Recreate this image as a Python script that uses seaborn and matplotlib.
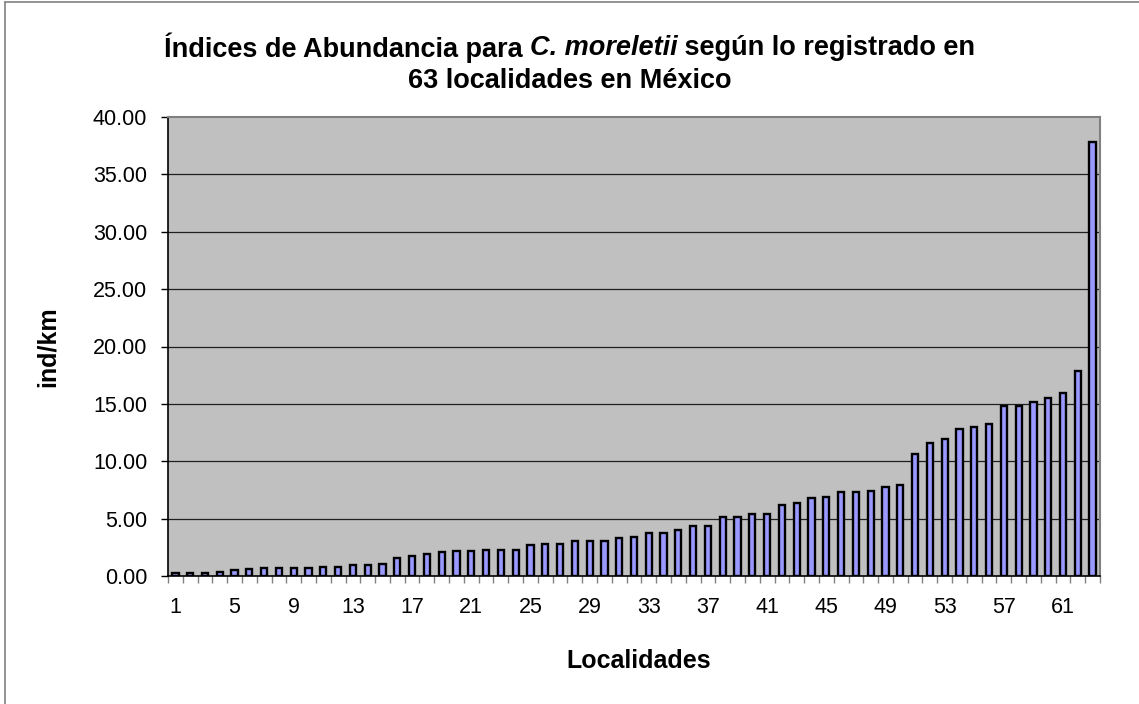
import numpy as np
import pandas as pd
import matplotlib
matplotlib.use('Agg')
import matplotlib.pyplot as plt
from matplotlib.lines import Line2D
import seaborn as sns

# datos
localidades = [str(i) for i in range(1, 64)]
valores = [0.22, 0.22, 0.30, 0.37, 0.50, 0.63, 0.66, 0.74, 0.74, 0.74,
           0.77, 0.77, 0.92, 0.95, 1.04, 1.56, 1.76, 1.96, 2.08, 2.14,
           2.20, 2.23, 2.25, 2.28, 2.66, 2.75, 2.81, 3.01, 3.04, 3.04,
           3.30, 3.42, 3.74, 3.76, 4.03, 4.32, 4.32, 5.13, 5.16, 5.36,
           5.39, 6.21, 6.36, 6.82, 6.91, 7.29, 7.29, 7.37, 7.72, 7.90,
           10.66, 11.56, 11.91, 12.78, 13.01, 13.24, 14.79, 14.79, 15.16, 15.54,
           15.92, 17.90, 37.86]
ytick_vals = np.arange(0, 45, 5)
titulo_1 = ['Índices de Abundancia para ', 'C. moreletii', ' según lo registrado en']
titulo_2 = '63 localidades en México'

df = pd.DataFrame({'Localidades': localidades, 'ind/km': valores})

sns.set_theme(style='white')
plt.rcParams['font.family'] = ['Liberation Sans', 'DejaVu Sans']
plt.rcParams['text.color'] = 'black'
plt.rcParams['xtick.color'] = 'black'
plt.rcParams['ytick.color'] = 'black'

fig = plt.figure(figsize=(11.39, 7.04), dpi=100)
ax = fig.add_axes([168 / 1139, 1 - 576 / 704, (1100 - 168) / 1139, (576 - 117) / 704])

sns.barplot(data=df, x='Localidades', y='ind/km', color='#9999FF', saturation=1,
            edgecolor='black', linewidth=1.7, width=0.42, ax=ax, zorder=3)

ax.set_facecolor('#C0C0C0')
ax.set_ylim(0, 40)
ax.set_xlim(-0.5, len(localidades) - 0.5)
ax.set_yticks(ytick_vals)
ax.set_yticklabels(['%.2f' % v for v in ytick_vals], fontsize=15.5)
for v in ytick_vals[1:-1]:
    ax.axhline(v, color='#202020', lw=0.9, zorder=1)

pos = np.arange(0, len(localidades), 4)
ax.set_xticks(pos)
ax.set_xticklabels([localidades[p] for p in pos], fontsize=15.5)
ax.set_xticks(np.arange(-0.5, len(localidades), 1), minor=True)
ax.tick_params(axis='x', which='major', length=0, pad=15)
ax.tick_params(axis='x', which='minor', length=5, width=1, color='#808080', direction='out', bottom=True)
ax.tick_params(axis='y', length=5, width=1, color='black', direction='out', left=True, pad=10)
ax.set_xlabel('')
ax.set_ylabel('')

for s in ['top', 'right']:
    ax.spines[s].set_color('#808080')
    ax.spines[s].set_linewidth(1.5)
for s in ['left', 'bottom']:
    ax.spines[s].set_color('black')
    ax.spines[s].set_linewidth(1.2)
ax.spines['bottom'].set_zorder(4)

fig.text(48 / 1139, 0.508, 'ind/km', rotation=90, fontsize=18, fontweight='bold',
         ha='center', va='center')
fig.text(639 / 1139, 1 - 661 / 704, 'Localidades', fontsize=18, fontweight='bold',
         ha='center', va='center')

# titulo con parte en cursiva
y1 = 1 - 48 / 704
y2 = 1 - 81 / 704
piezas = []
for i, t in enumerate(titulo_1):
    piezas.append(fig.text(0, y1, t, fontsize=19.5, fontweight='bold',
                           fontstyle='italic' if i == 1 else 'normal',
                           ha='left', va='center'))
fig.canvas.draw()
r = fig.canvas.get_renderer()
anchos = [p.get_window_extent(r).width for p in piezas]
x0 = (1139 / 2 - sum(anchos) / 2)
for p, w in zip(piezas, anchos):
    p.set_x(x0 / 1139)
    x0 += w
fig.text(0.5, y2, titulo_2, fontsize=19.5, fontweight='bold', ha='center', va='center')

# marco exterior
fig.add_artist(Line2D([5 / 1139, 5 / 1139], [0, 1 - 2 / 704], transform=fig.transFigure,
                      color='#808080', lw=1.2))
fig.add_artist(Line2D([5 / 1139, 1], [1 - 2 / 704, 1 - 2 / 704], transform=fig.transFigure,
                      color='#808080', lw=1.2))

fig.savefig('out.png', dpi=100)
